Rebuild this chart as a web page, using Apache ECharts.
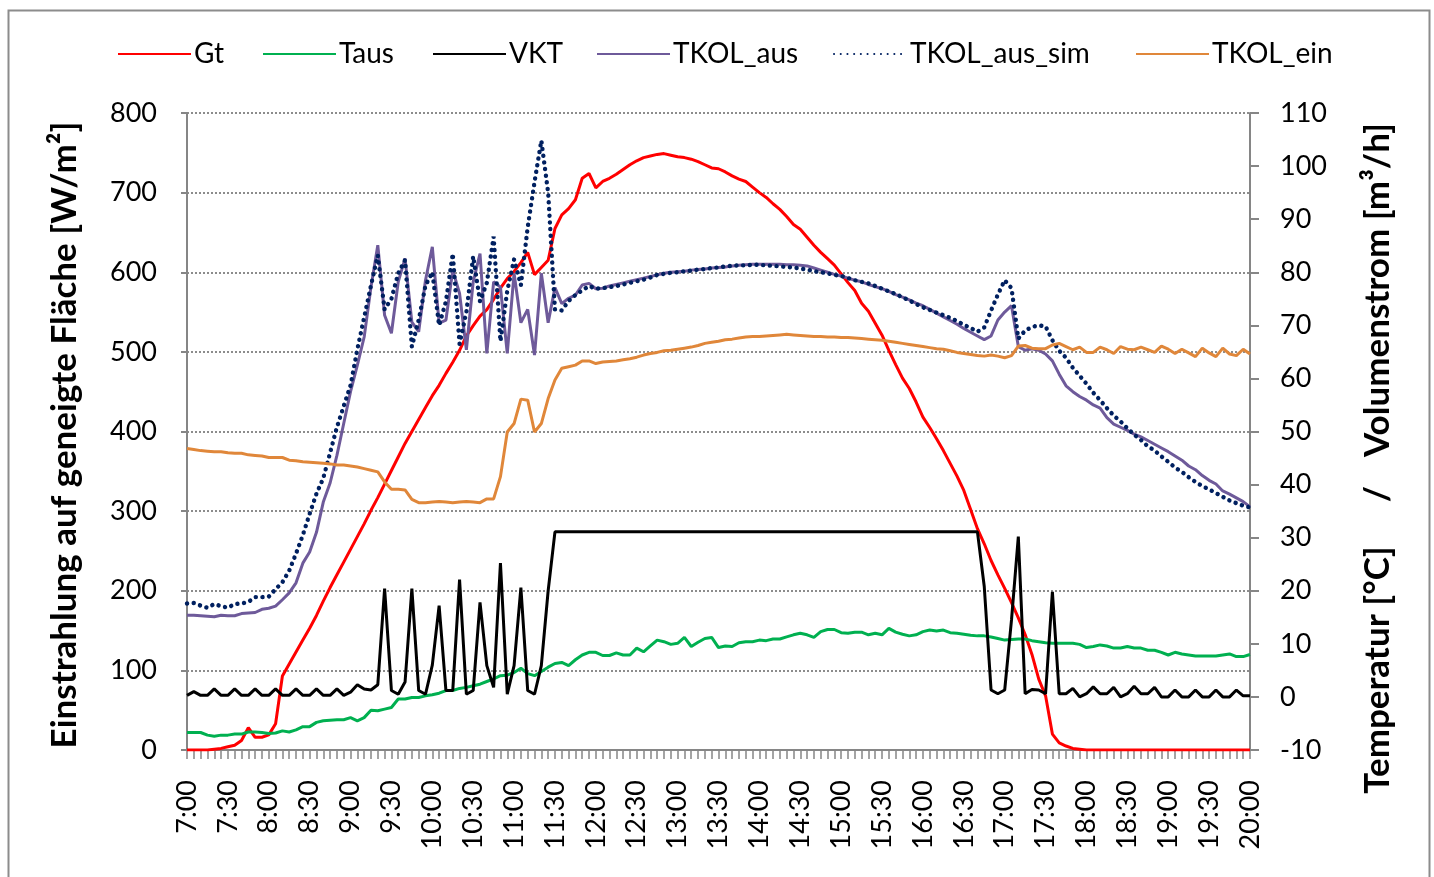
<!DOCTYPE html>
<html><head><meta charset="utf-8">
<script src="https://cdn.jsdelivr.net/npm/echarts/dist/echarts.min.js"></script>
<style>html,body{margin:0;padding:0;background:#fff}#c{width:1434px;height:877px}</style>
</head><body><div id="c"></div>
<script>
// time categories: 7:00 .. 20:00 in 5-minute steps
const startMinutes = 7 * 60, stepMinutes = 5, nPoints = 157;
const categories = [];
for (let i = 0; i < nPoints; i++) {
  const m = startMinutes + i * stepMinutes;
  categories.push(Math.floor(m / 60) + ':' + String(m % 60).padStart(2, '0'));
}
const seriesNames = ['Gt', 'Taus', 'VKT', 'TKOL_aus', 'TKOL_aus_sim', 'TKOL_ein'];
const leftTicks = [0, 800, 100];
const rightTicks = [-10, 110, 10];

// Gt [W/m²] (left axis)
const Gt = [0,0,0,0,1,2,4,6,12,28,
16,16,19,33,93,108,123,138,153,169,
187,204,220,236,252,268,284,301,317,334,
351,368,385,400,415,430,445,458,473,487,
502,520,533,545,553,566,580,592,601,612,
625,597,606,615,655,672,680,691,718,724,
706,714,718,723,729,735,740,744,746,748,
749,747,745,744,742,739,735,731,730,726,
721,717,714,707,700,694,686,679,670,660,
654,644,634,625,617,609,598,587,577,561,
551,536,521,502,484,467,454,437,418,405,
391,376,360,344,326,302,278,259,238,220,
203,185,166,145,120,89,68,20,9,5,
2,1,0,0,0,0,0,0,0,0,
0,0,0,0,0,0,0,0,0,0,
0,0,0,0,0,0,0];

// Taus [°C] (right axis)
const Taus = [-6.7,-6.7,-6.7,-7.2,-7.4,-7.2,-7.2,-7.0,-7.0,-6.6,
-6.6,-6.7,-6.9,-6.8,-6.4,-6.6,-6.2,-5.6,-5.6,-4.8,
-4.5,-4.4,-4.3,-4.3,-3.9,-4.5,-3.9,-2.5,-2.6,-2.3,
-2.0,-0.4,-0.4,-0.1,-0.1,0.2,0.4,0.7,1.2,1.2,
1.6,1.8,2.1,2.4,2.9,3.4,4.0,4.1,4.6,5.4,
4.4,4.0,4.8,5.6,6.3,6.5,5.9,7.0,7.9,8.4,
8.4,7.8,7.8,8.3,7.9,7.9,9.2,8.5,9.6,10.7,
10.4,9.9,10.1,11.2,9.5,10.3,11.0,11.2,9.3,9.6,
9.5,10.2,10.4,10.4,10.7,10.6,10.9,10.9,11.3,11.7,
12.0,11.7,11.2,12.3,12.7,12.7,12.1,12.0,12.2,12.2,
11.7,12.0,11.7,12.9,12.2,11.8,11.5,11.7,12.3,12.6,
12.4,12.6,12.1,12.0,11.8,11.6,11.5,11.5,11.3,11.0,
10.7,10.8,10.9,10.9,10.6,10.4,10.2,10.1,10.1,10.1,
10.1,9.9,9.3,9.5,9.8,9.6,9.2,9.2,9.5,9.2,
9.2,8.8,8.8,8.4,7.9,8.4,8.1,7.9,7.7,7.7,
7.7,7.7,7.9,8.1,7.6,7.6,8.0];

// VKT [m³/h] (right axis)
const VKT = [0.3,1.0,0.3,0.3,1.5,0.3,0.3,1.5,0.3,0.3,
1.5,0.3,0.3,1.5,0.3,0.3,1.5,0.3,0.3,1.5,
0.3,0.3,1.5,0.3,0.9,2.3,1.5,1.3,2.3,20.4,
1.2,0.5,2.8,20.4,1.2,0.5,6.0,17.2,1.2,1.2,
22.1,0.5,1.2,17.8,5.9,1.8,25.2,0.5,5.9,20.6,
1.2,0.5,5.9,20.0,31.1,31.1,31.1,31.1,31.1,31.1,
31.1,31.1,31.1,31.1,31.1,31.1,31.1,31.1,31.1,31.1,
31.1,31.1,31.1,31.1,31.1,31.1,31.1,31.1,31.1,31.1,
31.1,31.1,31.1,31.1,31.1,31.1,31.1,31.1,31.1,31.1,
31.1,31.1,31.1,31.1,31.1,31.1,31.1,31.1,31.1,31.1,
31.1,31.1,31.1,31.1,31.1,31.1,31.1,31.1,31.1,31.1,
31.1,31.1,31.1,31.1,31.1,31.1,31.1,20.8,1.3,0.6,
1.3,14.5,30.2,0.6,1.4,1.3,0.6,19.8,0.6,0.6,
1.6,0.0,0.6,1.9,0.6,0.6,1.8,0.0,0.6,2.0,
0.6,0.6,1.8,0.0,0.0,1.3,0.0,0.0,1.3,0.0,
0.0,1.3,0.0,0.0,1.3,0.2,0.2];

// TKOL_aus [°C] (right axis)
const TKOL_aus = [15.4,15.4,15.3,15.2,15.1,15.4,15.3,15.3,15.7,15.8,
15.9,16.5,16.7,17.1,18.3,19.6,21.5,25.2,27.3,31.0,
36.7,40.3,45.5,51.5,57.5,62.5,67.8,77.2,85.1,71.9,
68.5,78.2,82.6,70.6,68.8,78.5,84.8,70.4,71.0,80.4,
76.0,65.4,78.2,83.5,64.7,78.2,77.2,64.7,79.8,70.5,
73.0,64.4,79.8,70.5,77.1,74.1,75.1,75.7,77.6,77.9,
76.9,77.0,77.4,77.7,78.0,78.3,78.6,78.9,79.2,79.5,
79.8,80.0,80.1,80.2,80.4,80.5,80.6,80.8,80.9,81.0,
81.2,81.3,81.4,81.5,81.5,81.5,81.5,81.5,81.4,81.4,
81.3,81.2,80.8,80.4,80.0,79.6,79.3,78.9,78.5,78.2,
77.7,77.3,76.9,76.4,75.8,75.3,74.8,74.2,73.7,73.0,
72.3,71.6,70.9,70.2,69.4,68.7,68.0,67.3,68.0,71.0,
72.5,73.7,66.0,65.3,65.6,65.3,64.6,63.3,60.8,58.6,
57.5,56.6,55.9,55.0,54.4,52.6,51.4,50.8,50.2,49.5,
49.0,48.3,47.6,46.9,46.2,45.4,44.6,43.5,42.8,41.7,
40.8,40.1,38.8,38.2,37.5,36.8,35.8];

// TKOL_aus_sim [°C] (right axis)
const TKOL_aus_sim = [17.6,17.7,17.2,16.8,17.5,17.1,16.8,17.5,17.6,17.9,
18.8,18.8,18.9,20.3,21.6,23.8,27.0,30.5,34.5,38.3,
41.2,46.0,50.8,54.8,58.7,65.5,71.5,77.5,83.2,73.0,
75.0,79.8,82.3,66.0,71.0,77.5,80.0,70.0,74.5,83.5,
66.5,72.5,83.0,74.5,78.0,86.7,67.0,76.5,82.4,77.6,
88.5,97.0,104.8,95.0,73.0,72.8,74.6,75.7,76.6,77.4,
76.9,77.0,77.2,77.4,77.7,78.0,78.3,78.6,79.0,79.5,
79.7,79.9,80.0,80.2,80.3,80.5,80.6,80.8,80.9,81.1,
81.2,81.3,81.3,81.4,81.4,81.3,81.2,81.1,81.0,80.9,
80.7,80.5,80.2,80.0,79.8,79.5,79.3,78.9,78.5,78.2,
77.9,77.4,76.9,76.4,75.9,75.3,74.7,74.0,73.4,72.9,
72.4,71.9,71.4,70.8,70.1,69.5,68.8,69.6,72.8,75.8,
78.5,77.0,67.5,69.0,69.7,70.0,69.8,67.2,65.2,63.9,
62.0,60.5,59.0,57.3,55.9,54.4,53.0,51.9,50.6,49.4,
48.4,47.2,46.4,45.3,44.3,43.2,42.4,41.4,40.5,39.7,
39.1,38.4,37.7,37.0,36.5,36.0,35.7];

// TKOL_ein [°C] (right axis)
const TKOL_ein = [46.8,46.6,46.4,46.3,46.2,46.2,46.0,45.9,45.9,45.6,
45.5,45.4,45.1,45.1,45.1,44.6,44.5,44.3,44.2,44.1,
44.0,43.9,43.7,43.7,43.5,43.3,43.0,42.7,42.4,40.5,
39.1,39.1,39.0,37.2,36.6,36.6,36.7,36.8,36.7,36.6,
36.7,36.8,36.7,36.6,37.3,37.3,41.5,49.9,51.5,56.1,
55.9,49.9,51.5,56.2,59.7,61.9,62.2,62.5,63.3,63.3,
62.8,63.1,63.2,63.3,63.5,63.7,64.0,64.4,64.7,64.9,
65.2,65.3,65.5,65.7,65.9,66.2,66.6,66.8,67.0,67.3,
67.4,67.6,67.8,67.9,67.9,68.0,68.1,68.2,68.3,68.2,
68.1,68.0,67.9,67.9,67.8,67.8,67.7,67.7,67.6,67.5,
67.4,67.3,67.2,67.0,66.8,66.6,66.4,66.2,66.0,65.8,
65.6,65.5,65.2,64.9,64.7,64.5,64.3,64.2,64.4,64.2,
63.9,64.3,66.1,66.2,65.7,65.6,65.6,66.3,66.6,66.0,
65.4,65.9,64.9,64.9,65.9,65.4,64.7,66.0,65.5,65.4,
65.9,65.4,64.9,66.1,65.5,64.7,65.5,64.8,64.1,65.7,
64.8,64.1,65.7,64.6,64.3,65.5,64.6];

const FONT = 'Lato';
const gray = '#868686';
const chart = echarts.init(document.getElementById('c'), null, {renderer: 'canvas'});

function lineSeries(name, data, color, yAxisIndex, extra) {
  return Object.assign({
    name, type: 'line', data, yAxisIndex,
    symbol: 'none', smooth: false,
    lineStyle: {color, width: 3},
    itemStyle: {color},
    emphasis: {disabled: true}
  }, extra || {});
}

// one legend block per item, placed like the original
const legendLefts = [117, 262, 432, 596, 833, 1135];
const legends = seriesNames.map((n, k) => ({
  data: [n], left: legendLefts[k], top: 40, padding: 0,
  itemWidth: 73, itemHeight: 14, itemGap: 0,
  itemStyle: {opacity: 0, color: 'rgba(0,0,0,0)', borderWidth: 0},
  textStyle: {fontFamily: FONT, fontSize: 28, color: '#000', padding: [0, 0, 0, -2]}
}));

const titleStyle = (text) => ({text, font: 'bold 35px Lato', fill: '#000',
  align: 'center', verticalAlign: 'middle', textAlign: 'center', textVerticalAlign: 'middle'});

chart.setOption({
  animation: false,
  backgroundColor: '#fff',
  grid: {left: 187, right: 184, top: 113, bottom: 127, containLabel: false},
  legend: legends,
  xAxis: {
    type: 'category', data: categories, boundaryGap: false,
    axisLine: {lineStyle: {color: gray, width: 2}},
    axisTick: {show: true, interval: 0, length: 9, lineStyle: {color: gray, width: 1.5}},
    axisLabel: {interval: 5, rotate: 90, margin: 30, fontFamily: FONT, fontSize: 27, color: '#000'},
    splitLine: {show: false}
  },
  yAxis: [
    {
      type: 'value', min: leftTicks[0], max: leftTicks[1], interval: leftTicks[2], position: 'left',
      axisLine: {show: true, lineStyle: {color: gray, width: 2}},
      axisTick: {show: true, inside: false, length: 6, lineStyle: {color: gray, width: 2}},
      axisLabel: {margin: 30, fontFamily: FONT, fontSize: 27, color: '#000'},
      splitLine: {show: true, lineStyle: {color: '#8c8c8c', width: 2, type: [2, 2]}}
    },
    {
      type: 'value', min: rightTicks[0], max: rightTicks[1], interval: rightTicks[2], position: 'right',
      axisLine: {show: true, lineStyle: {color: gray, width: 2}},
      axisTick: {show: true, inside: false, length: 9, lineStyle: {color: gray, width: 2}},
      axisLabel: {margin: 30, fontFamily: FONT, fontSize: 27, color: '#000'},
      splitLine: {show: false}
    }
  ],
  series: [
    lineSeries('Gt', Gt, '#FF0000', 0),
    lineSeries('Taus', Taus, '#00B050', 1),
    lineSeries('VKT', VKT, '#000000', 1),
    lineSeries('TKOL_aus', TKOL_aus, '#6E5A9A', 1),
    lineSeries('TKOL_aus_sim', TKOL_aus_sim, '#002060', 1,
      {lineStyle: {color: '#002060', width: 4.4, type: [0.1, 6.6], cap: 'round'}}),
    lineSeries('TKOL_ein', TKOL_ein, '#E0873A', 1)
  ],
  graphic: [
    {type: 'rect', shape: {x: 8.5, y: 10.5, width: 1421, height: 880},
     style: {fill: 'none', stroke: '#8c8c8c', lineWidth: 2}, silent: true, z: -10},
    {type: 'text', x: 65, y: 435, rotation: Math.PI / 2,
     style: titleStyle('Einstrahlung auf geneigte Fläche [W/m²]')},
    {type: 'text', x: 1378, y: 670, rotation: Math.PI / 2, style: titleStyle('Temperatur [°C]')},
    {type: 'text', x: 1378, y: 494, rotation: Math.PI / 2, style: titleStyle('/')},
    {type: 'text', x: 1378, y: 290, rotation: Math.PI / 2, style: titleStyle('Volumenstrom [m³/h]')}
  ]
});
</script>
</body></html>
